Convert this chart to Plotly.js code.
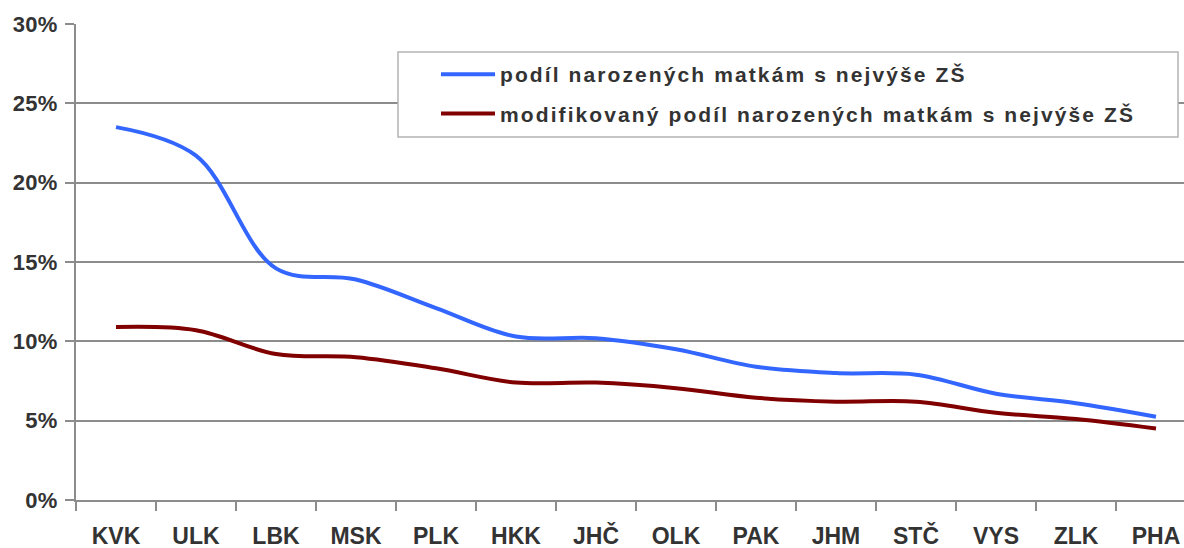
<!DOCTYPE html>
<html>
<head>
<meta charset="utf-8">
<script src="https://cdn.plot.ly/plotly-3.0.1.min.js"></script>
<style>
  html, body { margin: 0; padding: 0; background: #fff; }
  #chart { width: 1184px; height: 548px; }
  .ytick text { letter-spacing: 0.3px; }
  .legendtext { letter-spacing: 2.1px; }
</style>
</head>
<body>
<div id="chart"></div>
<script>
const regions = ['KVK','ULK','LBK','MSK','PLK','HKK','JHČ','OLK','PAK','JHM','STČ','VYS','ZLK','PHA'];
const shareBasic = [23.5, 21.7, 14.6, 13.9, 12.1, 10.3, 10.2, 9.5, 8.4, 8.0, 7.9, 6.7, 6.1, 5.25];
const shareModified = [10.9, 10.7, 9.2, 9.0, 8.3, 7.4, 7.4, 7.05, 6.45, 6.2, 6.2, 5.5, 5.1, 4.5];
const seriesNames = ['podíl narozených matkám s nejvýše ZŠ', 'modifikovaný podíl narozených matkám s nejvýše ZŠ'];
const yTicks = [0, 5, 10, 15, 20, 25, 30];

const txt = '#333333';
const grid = '#8c8c8c';

const traces = [
  {x: regions, y: shareBasic, name: seriesNames[0], type: 'scatter', mode: 'lines',
   line: {color: '#3366ff', width: 4, shape: 'spline', smoothing: 1}, legendgroup: 'a'},
  {x: regions, y: shareModified, name: seriesNames[1], type: 'scatter', mode: 'lines',
   line: {color: '#800000', width: 4, shape: 'spline', smoothing: 1}, legendgroup: 'b'}
];

const L = 76, T = 24, W = 1184, H = 548, B = 48;
const pw = W - L, ph = H - T - B;
const px = v => (v - L) / pw;
const py = v => (H - B - v) / ph;

const layout = {
  width: W, height: H,
  margin: {l: L, r: 0, t: T, b: B, pad: 0},
  paper_bgcolor: '#ffffff', plot_bgcolor: '#ffffff',
  font: {family: '"Liberation Sans", Arial, sans-serif', color: txt},
  showlegend: true,
  legend: {
    x: px(436), y: py(54), xanchor: 'left', yanchor: 'top',
    bgcolor: 'rgba(0,0,0,0)', borderwidth: 0,
    font: {size: 21, color: txt, family: '"Liberation Sans", Arial, sans-serif', weight: 'bold'},
    traceorder: 'grouped', tracegroupgap: 9, itemwidth: 54
  },
  xaxis: {
    type: 'category', range: [-0.5, 13.35], fixedrange: true,
    showgrid: false, zeroline: false,
    showline: true, linecolor: grid, linewidth: 2,
    ticks: 'outside', tickson: 'boundaries', ticklen: 9, tickwidth: 2, tickcolor: grid,
    tickfont: {size: 23, color: txt, weight: 'bold'},
    ticklabelstandoff: 14
  },
  yaxis: {
    range: [0, 30], tickvals: yTicks, ticktext: yTicks.map(v => v + '%'),
    showgrid: true, gridcolor: grid, gridwidth: 2, zeroline: false,
    showline: true, linecolor: grid, linewidth: 2,
    ticks: 'outside', ticklen: 9, tickwidth: 2, tickcolor: grid,
    tickfont: {size: 22, color: txt, weight: 'bold'},
    ticklabelstandoff: 3,
    fixedrange: true
  },
  shapes: [
    {type: 'rect', xref: 'paper', yref: 'paper', x0: px(398), x1: px(1178), y0: py(137), y1: py(52),
     fillcolor: '#ffffff', line: {color: '#b4b4b4', width: 1.5}, layer: 'above'}
  ]
};

Plotly.newPlot('chart', traces, layout, {displayModeBar: false, staticPlot: true});
</script>
</body>
</html>
